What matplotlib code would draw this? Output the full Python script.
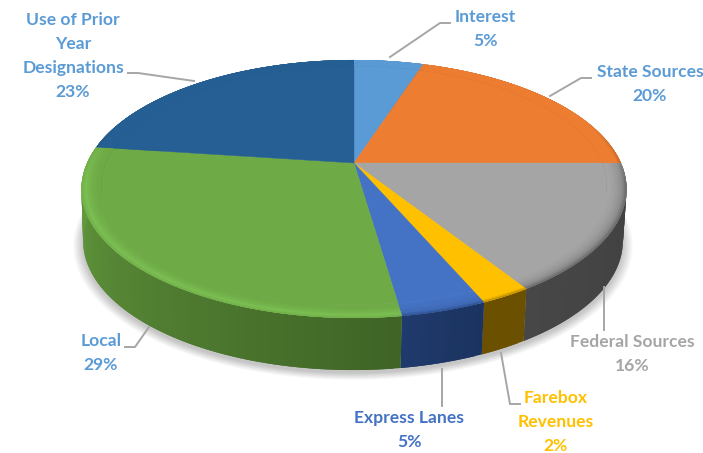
import numpy as np
import matplotlib
matplotlib.use("Agg")
from matplotlib import pyplot as plt
from matplotlib.collections import PolyCollection
from matplotlib.colors import to_rgb

plt.rcParams["font.family"] = ["Lato", "DejaVu Sans"]

# slices clockwise from 12 o'clock
names = ["Interest", "State Sources", "Federal Sources", "Farebox\nRevenues",
         "Express Lanes", "Local", "Use of Prior\nYear\nDesignations"]
shares = [5.0, 20.0, 16.0, 2.5, 4.2, 29.4, 22.9]
pct_labels = ["5%", "20%", "16%", "2%", "5%", "29%", "23%"]

top_colors = ["#5B9BD5", "#ED7D31", "#A5A5A5", "#FFC000", "#4472C4", "#6EAA46", "#265F93"]
bevel_colors = ["#5B9BD5", "#ED7D31", "#8A8A8A", "#FFC000", "#3F69B5", "#7CBF53", "#265F93"]
side_start = ["#2E4E6B", "#773F18", "#3F3F3F", "#6B5000", "#1B3360", "#3F6426", "#1C476E"]
side_end = ["#2E4E6B", "#773F18", "#474747", "#6B5000", "#1F3A6C", "#67A040", "#1C476E"]
label_colors = ["#5B9BD5", "#5B9BD5", "#A5A5A5", "#FFC000", "#4472C4", "#5B9BD5", "#5B9BD5"]

label_xy = [(485, 29), (650, 84), (632, 354), (556, 422), (409, 430), (101, 353), (73, 56)]
leaders = [
    [(390, 57), (440, 23), (450, 23)],
    [(550, 96), (581, 78), (591, 78)],
    [(604, 287), (604, 330)],
    [(501, 353), (510, 404), (520, 404)],
    [(442, 369), (442, 406)],
    [(149, 327), (135, 347), (125, 347)],
    [(194, 81), (138, 73), (128, 73)],
]

CX, CY = 354, 163
DEPTH = 52


def rim(theta, r=1.0, low=False):
    """Perspective view of a circle, theta clockwise from the far side."""
    sx, sy = r * np.sin(theta), r * np.cos(theta)
    den = 1 + 0.2016 * sy
    x = 267 * sx / den
    y = -123.8 * sy / den
    if low:
        return CX - 1 + 0.99 * x, CY + y + DEPTH
    return CX + x, CY + y


def mix(a, b, t):
    return (1 - t) * np.array(to_rgb(a)) + t * np.array(to_rgb(b))


def add_quads(ax, quads, colors, z):
    ax.add_collection(PolyCollection(quads, facecolors=colors, edgecolors="none", zorder=z))


def strip(xa, ya, xb, yb, j):
    # runs one step past its own end so the next one paints over the seam
    k = min(j + 2, len(xa) - 1)
    return [(xa[j], ya[j]), (xa[k], ya[k]), (xb[k], yb[k]), (xb[j], yb[j])]


fig = plt.figure(figsize=(7.03, 4.53), dpi=100)
ax = fig.add_axes([0, 0, 1, 1])
ax.set_xlim(0, 703)
ax.set_ylim(453, 0)
ax.axis("off")

edges = np.radians(np.concatenate([[0], np.cumsum(shares)]) * 3.6)

# soft shadow under the disc
circle = np.linspace(0, 2 * np.pi, 240)
for r in np.linspace(1.035, 1.0, 10):
    sx, sy = rim(circle, r, low=True)
    ax.fill(sx, sy + 3, color="black", alpha=0.022, lw=0, zorder=1)

# outer wall
for i in range(len(shares)):
    th = np.linspace(edges[i], edges[i + 1], max(int(shares[i] * 3), 3) + 1)
    x0, y0 = rim(th)
    x1, y1 = rim(th, low=True)
    quads, cols = [], []
    for j in range(len(th) - 1):
        quads.append(strip(x0, y0, x1, y1, j))
        cols.append(mix(side_start[i], side_end[i], j / max(len(th) - 2, 1)))
    add_quads(ax, quads, cols, 2 + i * 0.01)

# top surface
for i in range(len(shares)):
    th = np.linspace(edges[i], edges[i + 1], max(int(shares[i] * 3), 3) + 1)
    x, y = rim(th, 0.93)
    ax.fill(np.r_[CX, x], np.r_[CY, y], color=top_colors[i], lw=0.3, zorder=3)

# rounded edge of the top surface, only on the near side
rings = np.linspace(0.93, 1.0, 12)
for i in range(len(shares)):
    th = np.linspace(edges[i], edges[i + 1], max(int(shares[i] * 3), 3) + 1)
    quads, cols = [], []
    for a, b in zip(rings[:-1], rings[1:]):
        t = (a - 0.93) / 0.07
        xa, ya = rim(th, a)
        xb, yb = rim(th, min(b + 0.006, 1.0))
        for j in range(len(th) - 1):
            far = np.cos((th[j] + th[j + 1]) / 2)
            w = np.clip((0.35 - far) / 0.5, 0, 1)
            if t < 0.75:
                c = mix(top_colors[i], bevel_colors[i], (t / 0.75) ** 2)
            else:
                c = mix(bevel_colors[i], side_end[i], (t - 0.75) / 0.25 * 0.6)
            c = (1 - w) * np.array(to_rgb(top_colors[i])) + w * c
            quads.append(strip(xa, ya, xb, yb, j))
            cols.append(c)
    add_quads(ax, quads, cols, 4 + i * 0.01)

# leader lines and labels
for pts in leaders:
    px, py = zip(*pts)
    ax.plot(px, py, color="#A6A6A6", lw=1.4, zorder=5, solid_joinstyle="miter")

for name, pct, (lx, ly), col in zip(names, pct_labels, label_xy, label_colors):
    ax.text(lx, ly, name + "\n" + pct, color=col, fontsize=12.6, fontweight="bold",
            ha="center", va="center", multialignment="center", linespacing=1.6, zorder=6)

fig.savefig("out.png", dpi=100)
